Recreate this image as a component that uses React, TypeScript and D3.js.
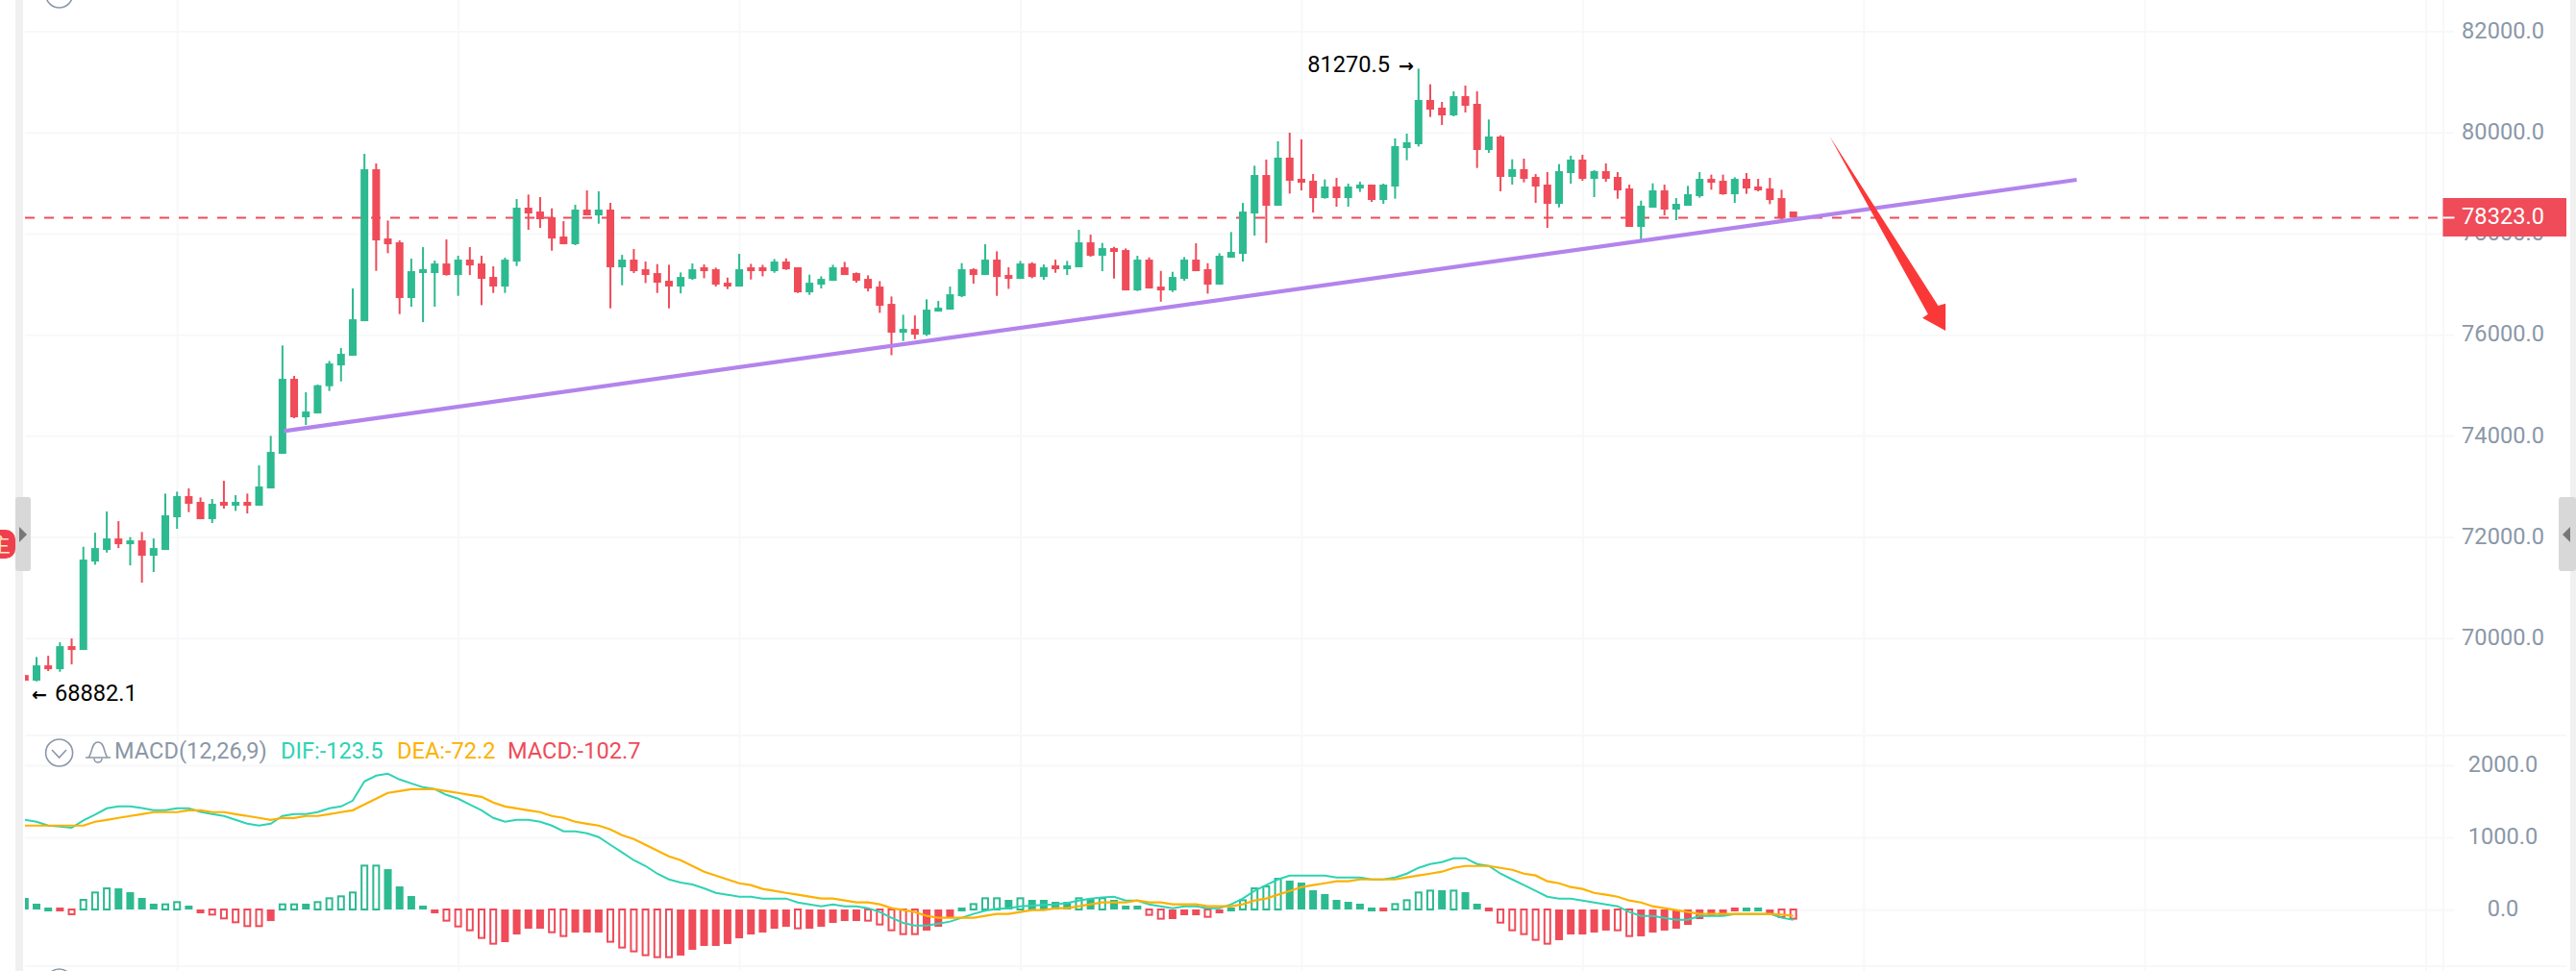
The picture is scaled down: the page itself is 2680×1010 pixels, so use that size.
import * as d3 from "d3";
import { useEffect, useRef } from "react";

// candles
const opens = [69280,69170,69472,69396,69852,69776,71525,71753,71981,71867,71943,71639,71753,72400,72818,72704,72362,72704,72628,72704,72628,72970,73654,75137,74377,74453,74991,75403,75593,76277,79281,77912,77836,76734,77228,77228,77418,77190,77494,77418,77152,76962,77456,78521,78445,78331,77950,77798,78483,78369,78483,77342,77494,77304,77228,77076,
  76961,77113,77342,77304,77037,76961,77342,77342,77266,77456,77342,76847,76999,77075,77342,77228,77113,76961,76619,76049,76125,76011,76467,76505,76771,77304,77190,77494,77190,77113,77418,77151,77380,77304,77342,77836,77570,77722,77684,76885,77494,76961,76885,77113,77494,77304,76999,77532,77608,78407,79167,78559,79510,79091,79053,78711,78939,78711,78901,78977,78673,78939,79700,79776,80650,80498,80346,80726,80574,79662,79928,79129,79282,79129,78977,78597,79205,79472,79091,79243,79129,78901,78141,78521,78863,78483,78559,78749,79091,79053,78787,79091,78939,78901,78711,78445];
const closes = [69170,69472,69396,69852,69776,71563,71791,71981,71867,71943,71639,71791,72438,72818,72666,72362,72666,72628,72704,72628,73008,73692,75137,74377,74491,75010,75441,75631,76315,79281,77874,77798,76734,77266,77304,77418,77190,77494,77380,77114,76962,77494,78521,78407,78293,77912,77798,78483,78369,78483,77342,77494,77266,77190,77038,76962,
  77151,77304,77266,76999,76961,77304,77266,77266,77456,77304,76847,77037,77113,77342,77190,77075,76923,76581,76049,76125,76011,76505,76543,76809,77304,77190,77494,77151,77113,77418,77151,77342,77304,77380,77836,77570,77722,77646,76885,77494,76923,76885,77151,77494,77266,76999,77570,77646,78444,79167,78559,79510,79053,79015,78711,78939,78711,78939,78977,78673,78977,79738,79814,80650,80460,80346,80726,80536,79662,79928,79129,79282,79091,78939,78597,79243,79472,79091,79243,79091,78863,78141,78559,78863,78483,78597,78787,79091,79015,78787,79091,78901,78863,78673,78310,78323];
const highs = [69280,69637,69662,69928,70004,71816,72095,72514,72323,72007,72108,71981,72868,72906,72970,72792,72761,73122,72837,72868,73426,74009,75796,75194,74871,75023,75491,75745,76924,79585,79395,78267,77874,77513,77741,77475,77893,77570,77741,77570,77361,77532,78692,78780,78730,78508,78254,78578,78863,78844,78616,77589,77703,77456,77405,77393,
  77240,77418,77399,77335,77139,77608,77411,77392,77506,77519,77342,77196,77164,77392,77449,77240,77183,77069,76765,76404,76391,76708,76676,76961,77424,77323,77798,77658,77342,77468,77443,77399,77494,77468,78083,77988,77823,77747,77716,77570,77538,77272,77253,77544,77817,77424,77620,78039,78615,79351,79472,79833,80004,79871,79186,79079,79110,78996,79034,78977,78996,79890,79985,81270,80961,80612,80821,80935,80821,80264,79953,79478,79491,79186,79224,79383,79548,79567,79262,79396,79224,78977,78660,79003,78977,78711,78952,79224,79174,79174,79123,79205,79091,79110,78876,78445];
const lows = [69170,69155,69358,69345,69491,69776,71462,71702,71791,71449,71107,71316,71753,72171,72501,72362,72285,72571,72526,72475,72628,72970,73654,74358,74225,74453,74896,75086,75593,76277,77272,77621,76417,76562,76258,76562,77177,76778,77190,76594,76835,76835,77367,78083,78121,77671,77798,77779,78369,78204,76531,76987,77228,77031,76835,76531,
  76828,77094,77126,76961,76911,76961,77101,77164,77234,77291,76835,76797,76923,77075,77190,77037,76866,76442,75605,75884,75922,75985,76467,76505,76752,77018,77190,76778,76917,77113,77126,77094,77234,77190,77342,77551,77266,77120,76885,76873,76923,76663,76854,77075,77266,76822,76999,77532,77456,77970,77824,78559,78800,78863,78426,78698,78540,78540,78832,78635,78597,78698,79459,79731,80314,80156,80327,80403,79307,79605,78844,78977,79022,78616,78122,78527,78996,79053,78730,79034,78698,78141,77887,78521,78369,78274,78559,78718,78876,78775,78616,78794,78844,78591,78290,78323];

// MACD panel
const macdValues = [160,80,27,-27,-66,133,235,292,292,239,160,80,71,102,53,-53,-71,-124,-177,-230,-230,-160,71,71,80,102,155,182,235,607,607,558,319,186,53,-53,-155,-235,-288,-394,-474,-452,-346,-266,-266,-315,-368,-319,-319,-319,-447,-527,-580,-633,-660,-660,
  -638,-558,-505,-505,-478,-399,-346,-319,-266,-239,-261,-266,-239,-186,-160,-160,-155,-208,-288,-341,-341,-292,-239,-115,27,75,155,155,133,155,133,133,106,106,155,155,155,133,53,53,-75,-128,-133,-80,-80,-102,-53,27,128,292,319,425,399,372,266,213,133,106,80,27,-27,75,128,235,261,266,261,239,80,-27,-182,-288,-341,-421,-474,-425,-346,-346,-319,-292,-288,-368,-372,-319,-292,-266,-213,-133,-80,-80,27,27,27,-53,-106,-128];
const hollowBars = [4,5,6,7,12,13,16,17,18,19,20,22,23,25,26,27,28,29,30,36,37,38,39,40,45,46,50,51,52,53,54,55,66,72,73,74,75,76,81,82,83,85,90,92,96,97,101,104,105,106,107,117,118,119,120,122,126,127,128,129,130,136,137,150,151];
const redAboveZero = [146];
const difValues = [1240,1214,1161,1147,1130,1232,1311,1400,1426,1426,1404,1373,1373,1400,1400,1351,1320,1294,1240,1187,1161,1187,1294,1320,1320,1347,1400,1426,1506,1772,1852,1878,1799,1745,1692,1666,1586,1533,1453,1373,1267,1214,1240,1240,1214,1161,1081,1081,1054,1001,895,789,682,602,496,416,
  372,346,292,230,204,177,177,151,151,151,97,71,44,71,44,44,18,-35,-115,-186,-222,-222,-195,-168,-115,-62,-18,9,18,44,53,62,71,89,124,151,168,177,124,124,71,44,18,44,44,18,18,71,151,257,337,416,470,470,470,470,443,
  443,443,416,416,443,496,576,629,656,709,709,629,602,496,416,337,257,177,151,151,124,97,71,44,-35,-89,-89,-115,-142,-142,-89,-89,-89,-62,-62,-62,-62,-115,-142];
const deaValues = [1161,1161,1161,1161,1161,1161,1214,1240,1267,1294,1320,1347,1347,1347,1373,1373,1347,1347,1320,1294,1267,1240,1267,1267,1294,1294,1320,1347,1373,1453,1533,1613,1639,1666,1666,1666,1639,1613,1586,1559,1480,1426,1400,1373,1347,1294,1267,1214,1187,1161,1108,1028,975,895,815,735,
  682,602,523,470,416,363,337,284,257,230,204,177,151,151,124,97,97,71,18,-9,-35,-89,-115,-115,-115,-115,-89,-62,-62,-35,-9,-9,18,18,44,71,97,97,97,124,97,97,71,71,71,44,44,44,71,124,151,204,257,310,337,363,390,
  390,416,416,416,416,443,470,496,523,576,602,602,602,576,549,496,470,390,363,310,284,230,204,177,124,97,44,18,-9,-35,-62,-62,-62,-62,-62,-62,-62,-71,-89];

const priceTicks = [82000,80000,78000,76000,74000,72000,70000];
const macdTicks = [2000,1000,0];
const timeGridIndex = [13,37,61,85,109,133,157,181,205];
const lastPrice = 78323;

// drawings on the chart, [candle index, price]
const trendLine: [number, number][] = [[22.13,74105],[175.2,79072]];
const redArrow: [number, number][] = [[154.1,79934],[163.37,76582],[164,76626],[164,76088],[162.03,76341],[162.5,76417]];

const GREEN = "#2dba90";
const RED = "#ef4b59";
const GRAY = "#8b97a7";
const GRID = "#f7f8fa";
const FONT = "Roboto, sans-serif";
const FONT_SIZE = 23.6;

const App = () => {
  const ref = useRef<SVGSVGElement>(null);

  useEffect(() => {
    const svg = d3.select(ref.current);
    svg.selectAll("*").remove();

    const x = d3.scaleLinear().domain([0, 151]).range([25.8, 1865.7]);
    const y = d3.scaleLinear().domain([70000, 82000]).range([664.3, 33]);
    const yMacd = d3.scaleLinear().domain([0, 2000]).range([946, 795.7]);

    svg.append("clipPath").attr("id", "plot")
      .append("rect").attr("x", 26).attr("y", 0).attr("width", 2516).attr("height", 1010);

    // side bands
    svg.append("rect").attr("x", 16).attr("y", 0).attr("width", 8).attr("height", 1010).attr("fill", "#f0f0f0");
    svg.append("rect").attr("x", 2674).attr("y", 0).attr("width", 6).attr("height", 1010).attr("fill", "#f0f0f0");

    // grid
    svg.selectAll(".vgrid").data(timeGridIndex).enter().append("line")
      .attr("x1", (d) => x(d) + 0.5).attr("x2", (d) => x(d) + 0.5)
      .attr("y1", 0).attr("y2", 1010)
      .attr("stroke", GRID).attr("stroke-width", 2);
    svg.append("line").attr("x1", 2542).attr("x2", 2542).attr("y1", 0).attr("y2", 1010)
      .attr("stroke", GRID).attr("stroke-width", 2);
    svg.selectAll(".hgrid").data(priceTicks).enter().append("line")
      .attr("x1", 26).attr("x2", 2553)
      .attr("y1", (d) => y(d)).attr("y2", (d) => y(d))
      .attr("stroke", GRID).attr("stroke-width", 2);
    svg.selectAll(".mgrid").data(macdTicks).enter().append("line")
      .attr("x1", 26).attr("x2", 2553)
      .attr("y1", (d) => yMacd(d) + 0.7).attr("y2", (d) => yMacd(d) + 0.7)
      .attr("stroke", GRID).attr("stroke-width", 2);
    svg.selectAll(".sep").data([765, 1005]).enter().append("line")
      .attr("x1", 26).attr("x2", 2670)
      .attr("y1", (d) => d).attr("y2", (d) => d)
      .attr("stroke", GRID).attr("stroke-width", 2);

    // axis labels
    svg.selectAll(".ptick").data(priceTicks).enter().append("text")
      .attr("x", 2604).attr("y", (d) => y(d) - 1.5).attr("dy", "0.35em")
      .attr("text-anchor", "middle").attr("font-family", FONT).attr("font-size", FONT_SIZE)
      .attr("fill", GRAY).text((d) => d3.format(".1f")(d));
    svg.selectAll(".mtick").data(macdTicks).enter().append("text")
      .attr("x", 2604).attr("y", (d) => yMacd(d) - 1).attr("dy", "0.35em")
      .attr("text-anchor", "middle").attr("font-family", FONT).attr("font-size", FONT_SIZE)
      .attr("fill", GRAY).text((d) => d3.format(".1f")(d));

    const plot = svg.append("g").attr("clip-path", "url(#plot)");

    // last price line
    plot.append("line")
      .attr("x1", 26).attr("x2", 2542)
      .attr("y1", y(lastPrice)).attr("y2", y(lastPrice))
      .attr("stroke", RED).attr("stroke-width", 2).attr("stroke-dasharray", "10,10");

    // candles
    const up = (i: number) => closes[i] >= opens[i];
    plot.selectAll(".wick").data(d3.range(opens.length)).enter().append("line")
      .attr("x1", (i) => x(i)).attr("x2", (i) => x(i))
      .attr("y1", (i) => y(highs[i])).attr("y2", (i) => y(lows[i]))
      .attr("stroke", (i) => (up(i) ? GREEN : RED)).attr("stroke-width", 2);
    plot.selectAll(".body").data(d3.range(opens.length)).enter().append("rect")
      .attr("x", (i) => x(i) - 4).attr("width", 8)
      .attr("y", (i) => y(Math.max(opens[i], closes[i])))
      .attr("height", (i) => Math.max(1, Math.abs(y(opens[i]) - y(closes[i]))))
      .attr("fill", (i) => (up(i) ? GREEN : RED));

    // MACD bars
    const barColor = (i: number) =>
      macdValues[i] >= 0 && !redAboveZero.includes(i) ? GREEN : RED;
    const barTop = (i: number) =>
      Math.abs(macdValues[i]) < 30 ? yMacd(0) - 2 : yMacd(Math.max(macdValues[i], 0));
    const barHeight = (i: number) =>
      Math.abs(macdValues[i]) < 30 ? 4 : Math.abs(yMacd(macdValues[i]) - yMacd(0));
    plot.selectAll(".bar").data(d3.range(macdValues.length)).enter().append("rect")
      .attr("x", (i) => x(i) - (hollowBars.includes(i) ? 3 : 4))
      .attr("width", (i) => (hollowBars.includes(i) ? 6 : 8))
      .attr("y", barTop)
      .attr("height", barHeight)
      .attr("fill", (i) => (hollowBars.includes(i) ? "none" : barColor(i)))
      .attr("stroke", (i) => (hollowBars.includes(i) ? barColor(i) : "none"))
      .attr("stroke-width", 2);

    // MACD lines
    const macdLine = d3.line<number>().x((_, i) => x(i)).y((d) => yMacd(d));
    plot.append("path").attr("d", macdLine(difValues))
      .attr("fill", "none").attr("stroke", "#2ed3b4").attr("stroke-width", 2);
    plot.append("path").attr("d", macdLine(deaValues))
      .attr("fill", "none").attr("stroke", "#fdb100").attr("stroke-width", 2.2);

    // drawings
    const priceLine = d3.line<[number, number]>().x((d) => x(d[0])).y((d) => y(d[1]));
    svg.append("path").attr("d", priceLine(trendLine))
      .attr("fill", "none").attr("stroke", "#b384ec").attr("stroke-width", 4.2);
    svg.append("path").attr("d", priceLine(redArrow) + "Z").attr("fill", "#fb3838");

    // high and low marks, number and arrow apart so the arrow can be heavier
    const mark = (tx: number, ty: number, anchor: string, font: string, size: number, label: string) =>
      svg.append("text").attr("x", tx).attr("y", ty).attr("dy", "0.35em")
        .attr("text-anchor", anchor).attr("font-family", font).attr("font-size", size)
        .attr("fill", "#000").text(label);
    mark(1446, 67, "end", FONT, FONT_SIZE, "81270.5");
    mark(1471, 68, "end", "DejaVu Sans", 19, "→").attr("font-weight", "bold");
    mark(57, 721, "start", FONT, FONT_SIZE, "68882.1");
    mark(33, 722, "start", "DejaVu Sans", 19, "←").attr("font-weight", "bold");

    // price tag
    svg.append("rect").attr("x", 2541.5).attr("y", 206).attr("width", 128.5).attr("height", 40).attr("fill", RED);
    svg.append("rect").attr("x", 2541.5).attr("y", y(lastPrice) - 1).attr("width", 12).attr("height", 2).attr("fill", "#fff");
    svg.append("text").attr("x", 2604).attr("y", 225).attr("dy", "0.35em")
      .attr("text-anchor", "middle").attr("font-family", FONT).attr("font-size", FONT_SIZE)
      .attr("fill", "#fff").text("78323.0");

    // MACD header
    const header = svg.append("g");
    const circleAt = (cy: number) => {
      header.append("circle").attr("cx", 61.6).attr("cy", cy).attr("r", 14)
        .attr("fill", "none").attr("stroke", GRAY).attr("stroke-width", 1.6);
    };
    circleAt(783);
    circleAt(-6);
    circleAt(1022);
    header.append("path").attr("d", "M54 780L61.6 788L69 780")
      .attr("fill", "none").attr("stroke", GRAY).attr("stroke-width", 1.6);
    header.append("path")
      .attr("d", "M92 788C96 784 95 772 102 772C109 772 108 784 112 788ZM89 788H115M98 789A4 4 0 0 0 106 789")
      .attr("fill", "none").attr("stroke", GRAY).attr("stroke-width", 1.6);
    const legend: [string, number, string][] = [
      ["MACD(12,26,9)", 119, GRAY],
      ["DIF:-123.5", 292, "#2ed3b4"],
      ["DEA:-72.2", 413, "#fdb100"],
      ["MACD:-102.7", 528, RED],
    ];
    header.selectAll(".lg").data(legend).enter().append("text")
      .attr("x", (d) => d[1]).attr("y", 781).attr("dy", "0.35em")
      .attr("font-family", FONT).attr("font-size", FONT_SIZE)
      .attr("fill", (d) => d[2]).text((d) => d[0]);

    // collapse handles
    svg.append("rect").attr("x", 16).attr("y", 517).attr("width", 16).attr("height", 77).attr("rx", 3).attr("fill", "#d8d8d8");
    svg.append("path").attr("d", "M20 548L28 556L20 564Z").attr("fill", "#777");
    svg.append("rect").attr("x", 2662).attr("y", 517).attr("width", 18).attr("height", 77).attr("rx", 3).attr("fill", "#d8d8d8");
    svg.append("path").attr("d", "M2674 548L2666 556L2674 564Z").attr("fill", "#777");

    // red badge cut off at the left edge
    svg.append("rect").attr("x", -16).attr("y", 551).attr("width", 32).attr("height", 30).attr("rx", 10).attr("fill", "#ef3f4f");
    svg.append("clipPath").attr("id", "badge")
      .append("rect").attr("x", 0).attr("y", 551).attr("width", 16).attr("height", 30);
    svg.append("text").attr("x", 0).attr("y", 566).attr("dy", "0.35em")
      .attr("text-anchor", "middle").attr("clip-path", "url(#badge)")
      .attr("font-family", "Noto Sans CJK SC").attr("font-size", 22).attr("fill", "#ffe9c0").text("主");
  }, []);

  return (
    <svg
      ref={ref}
      width={2680}
      height={1010}
      style={{ position: "absolute", left: 0, top: 0, background: "#fff" }}
    ></svg>
  );
};

export default App;
